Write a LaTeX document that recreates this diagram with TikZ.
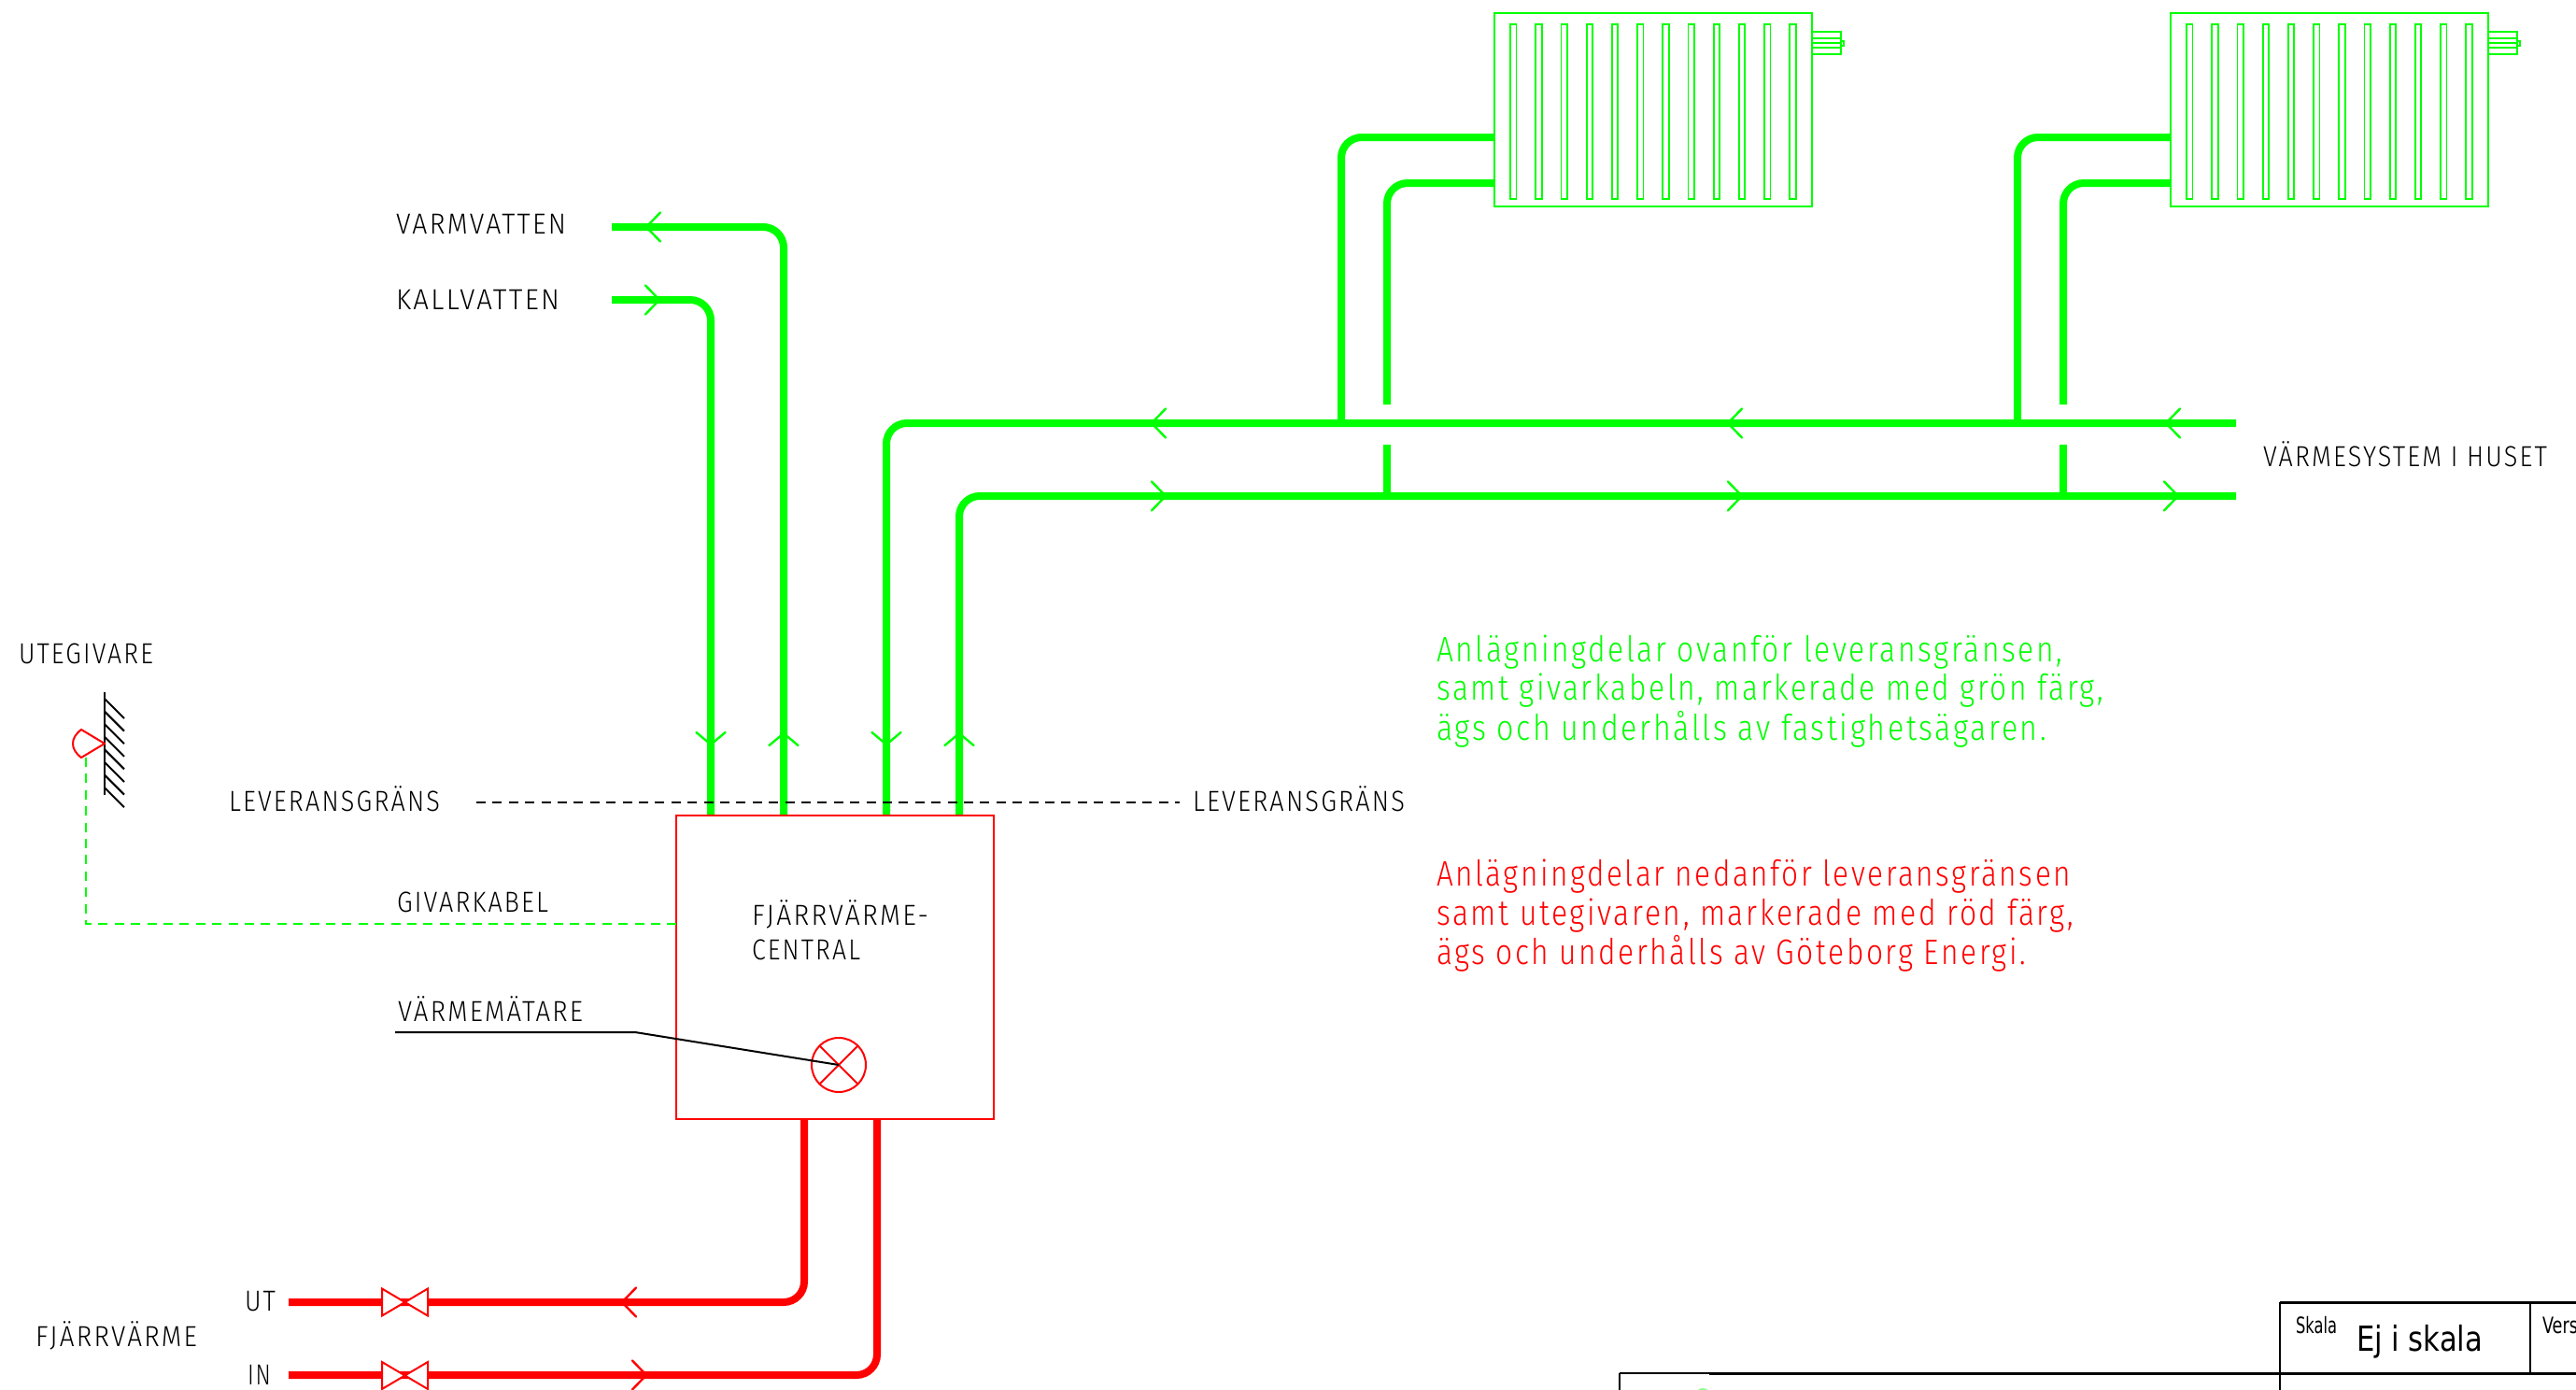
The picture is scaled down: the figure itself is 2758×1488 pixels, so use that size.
\documentclass[tikz,border=0pt]{standalone}
\usepackage{fontspec}
\usepackage{graphicx}
\setmainfont{Fira Sans Light}[LetterSpace=8]
\newfontfamily\tbfont{DejaVu Sans}
\definecolor{gr}{RGB}{0,255,0}
\definecolor{rd}{RGB}{255,0,0}
\newcommand\fitw[2]{\resizebox{#1pt}{\height}{#2}}
\tikzset{
  pipeg/.style={draw=gr,line width=8pt,rounded corners=22pt},
  piper/.style={draw=rd,line width=8pt,rounded corners=22pt},
  ahg/.style={draw=gr,line width=2.4pt,line cap=round},
  ahr/.style={draw=rd,line width=2.4pt,line cap=round},
  thin g/.style={draw=gr,line width=2pt},
  thin r/.style={draw=rd,line width=2pt},
  dashg/.style={draw=gr,line width=2.2pt,dash pattern=on 10pt off 7.4pt},
  dashk/.style={draw=black,line width=2.2pt,dash pattern=on 10pt off 7.4pt},
  lab/.style={anchor=base west,inner sep=0pt,outer sep=0pt,font=\fontsize{31}{31}\selectfont,text=black},
  note/.style={anchor=base west,inner sep=0pt,outer sep=0pt,font=\fontsize{38}{38}\selectfont},
  tb/.style={anchor=base west,inner sep=0pt,outer sep=0pt,text=black},
  frame/.style={draw=black,line width=2pt},
  framet/.style={draw=black,line width=3pt},
}
\newcommand\radiator[1]{%
  \begin{scope}[xshift=#1pt]
    \draw[thin g] (1600,14) rectangle (1940,221);
    \foreach \i in {0,...,11}
      \draw[draw=gr,line width=1.8pt] ({1617+27.2*\i},26) rectangle ({1623.5+27.2*\i},213);
    \draw[thin g] (1940,34) rectangle (1971,58);
    \draw[draw=gr,line width=1.6pt] (1940,41) -- (1971,41) (1940,46) -- (1971,46) (1940,51) -- (1971,51);
    \draw[draw=gr,line width=1.4pt] (1971,44) rectangle (1974,49);
  \end{scope}}
\newcommand\ahL[3]{\draw[#3] ({#1+15},{#2-15.5}) -- (#1,#2) -- ({#1+15},{#2+15.5});}
\newcommand\ahR[3]{\draw[#3] ({#1-15},{#2-15.5}) -- (#1,#2) -- ({#1-15},{#2+15.5});}
\newcommand\ahD[2]{\draw[ahg] ({#1-15.5},{#2-13}) -- (#1,#2) -- ({#1+15.5},{#2-13});}
\newcommand\ahU[2]{\draw[ahg] ({#1-15.5},{#2+13}) -- (#1,#2) -- ({#1+15.5},{#2+13});}
\newcommand\valve[2]{\draw[thin r,fill=white] ({#1-24.5},{#2-14.5}) -- ({#1+24.5},{#2+14.5}) -- ({#1+24.5},{#2-14.5}) -- ({#1-24.5},{#2+14.5}) -- cycle;}
\begin{document}
\begin{tikzpicture}[x=1pt,y=-1pt]
\useasboundingbox (0,0) rectangle (2758,1488);
\clip (0,0) rectangle (2758,1488);

% central box
\coordinate (boxnw) at (724,873);
\coordinate (boxse) at (1064,1198);

% green pipes
\coordinate (vvS) at (655,243); \coordinate (vvE) at (839,873);
\coordinate (kvS) at (655,321); \coordinate (kvE) at (761,873);
\draw[pipeg] (vvS) -| (vvE);
\draw[pipeg] (kvS) -| (kvE);
\coordinate (hsU) at (2394,453); \coordinate (hsUE) at (949,873);
\coordinate (hsL) at (2394,531); \coordinate (hsLE) at (1027,873);
\draw[pipeg] (hsU) -| (hsUE);
\draw[pipeg] (hsL) -| (hsLE);

% radiators and risers
\radiator{0}
\radiator{724}
\coordinate (r1u) at (1436,453); \coordinate (r1ue) at (1600,147);
\coordinate (r1l) at (1485,433); \coordinate (r1le) at (1600,196);
\coordinate (s1a) at (1485,476); \coordinate (s1b) at (1485,531);
\draw[pipeg] (r1u) |- (r1ue);
\draw[pipeg] (r1l) |- (r1le);
\draw[pipeg] (s1a) -- (s1b);
\coordinate (r2u) at (2160,453); \coordinate (r2ue) at (2324,147);
\coordinate (r2l) at (2209,433); \coordinate (r2le) at (2324,196);
\coordinate (s2a) at (2209,476); \coordinate (s2b) at (2209,531);
\draw[pipeg] (r2u) |- (r2ue);
\draw[pipeg] (r2l) |- (r2le);
\draw[pipeg] (s2a) -- (s2b);

% green arrowheads
\ahL{692}{243}{ahg}
\ahR{706}{321}{ahg}
\ahL{1233}{453}{ahg}
\ahL{1850}{453}{ahg}
\ahL{2319}{453}{ahg}
\ahR{1248}{531}{ahg}
\ahR{1865}{531}{ahg}
\ahR{2332}{531}{ahg}
\ahD{761}{797}
\ahU{839}{785}
\ahD{949}{797}
\ahU{1027}{785}

% delivery boundary
\coordinate (lgA) at (510,859); \coordinate (lgB) at (1263,859);
\draw[dashk] (lgA) -- (lgB);

% box outline
\draw[thin r] (boxnw) rectangle (boxse);

% red pipes
\coordinate (utS) at (309,1394); \coordinate (utE) at (861,1198);
\coordinate (inS) at (309,1472); \coordinate (inE) at (939,1198);
\draw[piper] (utS) -| (utE);
\draw[piper] (inS) -| (inE);
\valve{433.5}{1394}
\valve{433.5}{1472.5}
\ahL{666}{1394}{ahr}
\ahR{692}{1472}{ahr}

% heat meter
\coordinate (vmC) at (898,1140);
\draw[thin r] (vmC) circle (29);
\draw[thin r] (877.5,1119.5) -- (918.5,1160.5) (918.5,1119.5) -- (877.5,1160.5);
\coordinate (ldA) at (423,1105); \coordinate (ldB) at (680,1105);
\draw[draw=black,line width=2pt] (ldA) -- (ldB) -- (vmC);

% outdoor sensor
\draw[draw=black,line width=2pt] (112,741) -- (112,851);
\foreach \i in {0,...,7}
  \draw[draw=black,line width=2pt] (112,{748+13.6*\i}) -- (133,{769+13.6*\i});
\draw[thin r,line join=round] (112,796) -- (87,781) .. controls (75,790) and (75,802) .. (87,811) -- cycle;
\coordinate (gkA) at (92,811); \coordinate (gkB) at (92,989); \coordinate (gkC) at (724,989);
\draw[dashg] (gkA) -- (gkB) -- (gkC);

% labels
\node[lab] (tUte) at (20,710) {\fitw{144}{UTEGIVARE}};
\node[lab] (tVv) at (424,250) {\fitw{182}{VARMVATTEN}};
\node[lab] (tKv) at (424,331) {\fitw{175}{KALLVATTEN}};
\node[lab] (tLg1) at (245,868) {\fitw{226}{LEVERANSGRÄNS}};
\node[lab] (tLg2) at (1277,868) {\fitw{227}{LEVERANSGRÄNS}};
\node[lab] (tGk) at (425,976) {\fitw{162}{GIVARKABEL}};
\node[lab] (tVm) at (426,1093) {\fitw{198}{VÄRMEMÄTARE}};
\node[lab] (tFc1) at (805,990) {\fitw{189}{FJÄRRVÄRME-}};
\node[lab] (tFc2) at (805,1027) {\fitw{116}{CENTRAL}};
\node[lab] (tHus) at (2423,499) {\fitw{304}{VÄRMESYSTEM I HUSET}};
\node[lab] (tFj) at (38,1441) {\fitw{173}{FJÄRRVÄRME}};
\node[lab] (tUt) at (262,1403) {\fitw{33}{UT}};
\node[lab] (tIn) at (265,1482) {\fitw{25}{IN}};

\node[note,text=gr] (g1) at (1538,708) {\fitw{670}{Anlägningdelar ovanför leveransgränsen,}};
\node[note,text=gr] (g2) at (1538,749) {\fitw{714}{samt givarkabeln, markerade med grön färg,}};
\node[note,text=gr] (g3) at (1538,792) {\fitw{653}{ägs och underhålls av fastighetsägaren.}};
\node[note,text=rd] (r1) at (1538,948) {\fitw{679}{Anlägningdelar nedanför leveransgränsen}};
\node[note,text=rd] (r2) at (1538,990) {\fitw{682}{samt utegivaren, markerade med röd färg,}};
\node[note,text=rd] (r3) at (1538,1032) {\fitw{631}{ägs och underhålls av Göteborg Energi.}};

% title block
\draw[framet] (2441,1394) -- (2758,1394);
\draw[frame] (2441,1394) -- (2441,1488);
\draw[frame] (2709,1394) -- (2709,1470);
\draw[frame] (1734,1470) -- (1830,1470);
\draw[framet] (1830,1470) -- (2758,1470);
\draw[frame] (1734,1470) -- (1734,1488);
\fill[gr!45!white] (1823,1494) circle (8);
\node[tb,font=\tbfont\fontsize{24}{24}\selectfont] (tSk) at (2458,1427) {\fitw{44}{Skala}};
\node[tb,font=\tbfont\fontsize{24}{24}\selectfont] (tVe) at (2722,1427) {\fitw{38}{Vers}};
\node[tb,font=\tbfont\fontsize{37}{37}\selectfont] (tEj) at (2523,1446) {\fitw{135}{Ej i skala}};
\end{tikzpicture}
\end{document}
